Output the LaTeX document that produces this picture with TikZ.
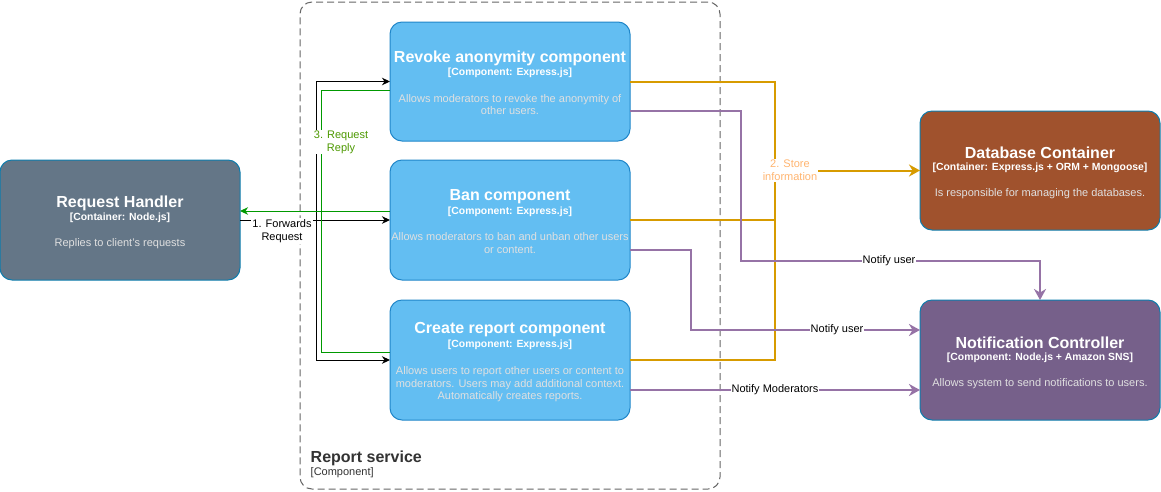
\documentclass[tikz,border=0pt]{standalone}
\usepackage{fontspec}
\setmainfont{Liberation Sans}
\usetikzlibrary{arrows.meta}
\definecolor{compfill}{HTML}{63BEF2}
\definecolor{compstroke}{HTML}{2086C9}
\definecolor{contstroke}{HTML}{0E7DAD}
\definecolor{rhfill}{HTML}{647687}
\definecolor{dbfill}{HTML}{A0522D}
\definecolor{ncfill}{HTML}{76608A}
\definecolor{desccol}{HTML}{E0E0E0}
\definecolor{orangeline}{HTML}{D79B00}
\definecolor{orangetext}{HTML}{FFB570}
\definecolor{purpleline}{HTML}{9673A6}
\definecolor{greenline}{HTML}{009900}
\definecolor{greentext}{HTML}{4D9900}
\definecolor{svcgray}{HTML}{666666}
\definecolor{svctext}{HTML}{333333}
\begin{document}
\begin{tikzpicture}[x=1pt,y=-1pt,
  box/.style={draw=contstroke, line width=1pt, rounded corners=12, minimum width=240, minimum height=120, outer sep=0, inner sep=0},
  comp/.style={box, draw=compstroke, fill=compfill},
  ttl/.style={font=\fontsize{16}{19}\selectfont\bfseries, text=white, inner sep=0},
  subt/.style={font=\fontsize{10.4}{13}\selectfont\bfseries, text=white, inner sep=0},
  dsc/.style={font=\fontsize{11}{12.6}\selectfont, text=desccol, align=center, inner sep=0},
  elabel/.style={font=\fontsize{11}{13}\selectfont, fill=white, inner sep=1pt, align=center},
  blk/.style={draw=black, line width=1pt},
  grn/.style={draw=greenline, line width=1pt},
  org/.style={draw=orangeline, line width=2pt},
  prp/.style={draw=purpleline, line width=2pt},
  thin tip/.style={-{Stealth[length=8pt,width=7.5pt,inset=2.5pt]}},
  thick tip/.style={-{Stealth[length=11pt,width=12pt,inset=3.5pt]}}
]
\useasboundingbox (0,0) rectangle (1161,491);
\fill[white] (0,0) rectangle (1161,491);

% service boundary
\node[draw=svcgray, line width=1pt, dash pattern=on 7pt off 4pt, rounded corners=12, minimum width=420, minimum height=487, inner sep=0, outer sep=0] (svc) at (510,245.5) {};
\node[font=\fontsize{16}{19}\selectfont\bfseries, text=svctext, anchor=west, inner sep=0] (svct) at (310.5,458) {Report service};
\node[font=\fontsize{11}{13}\selectfont, text=svctext, anchor=west, inner sep=0] (svcs) at (310.5,473) {[Component]};

% boxes
\node[box, fill=rhfill] (rh) at (120,220) {};
\node[comp, minimum height=119] (rev) at (510,81.5) {};
\node[comp] (ban) at (510,220) {};
\node[comp] (cr) at (510,360) {};
\node[box, fill=dbfill, minimum height=119] (db) at (1040,170.5) {};
\node[box, fill=ncfill] (nc) at (1040,360) {};

% texts
\node[ttl] (rht) at (120,203) {Request Handler};
\node[subt] (rhs) at (120,218) {[Container: Node.js]};
\node[dsc] (rhd) at (120,243.5) {Replies to client's requests};

\node[ttl] (revt) at (510,58) {Revoke anonymity component};
\node[subt] (revs) at (510,73) {[Component: Express.js]};
\node[dsc] (revd) at (510,104.5) {Allows moderators to revoke the anonymity of\\other users.};

\node[ttl] (bant) at (510,196.5) {Ban component};
\node[subt] (bans) at (510,211.5) {[Component: Express.js]};
\node[dsc] (band) at (510,243) {Allows moderators to ban and unban other users\\or content.};

\node[ttl] (crt) at (510,329.5) {Create report component};
\node[subt] (crs) at (510,344.5) {[Component: Express.js]};
\node[dsc] (crd) at (510,384.5) {Allows users to report other users or content to\\moderators. Users may add additional context.\\Automatically creates reports.};

\node[ttl] (dbt) at (1040,153) {Database Container};
\node[subt] (dbs) at (1040,168) {[Container: Express.js + ORM + Mongoose]};
\node[dsc] (dbd) at (1040,193.5) {Is responsible for managing the databases.};

\node[ttl] (nct) at (1040,342.5) {Notification Controller};
\node[subt] (ncs) at (1040,357.5) {[Component: Node.js + Amazon SNS]};
\node[dsc] (ncd) at (1040,383.5) {Allows system to send notifications to users.};

% black request lines
\coordinate (bj) at (316,220);
\draw[blk, thin tip] (rh.east) -- (ban.west);
\draw[blk, thin tip] (bj) |- (rev.west);
\draw[blk, thin tip] (bj) |- (cr.west);

% green reply lines
\coordinate (gj) at (321,211);
\draw[grn, thin tip] ([yshift=9]ban.west) -- ([yshift=9]rh.east);
\draw[grn] ([yshift=-9]rev.west) -| (gj);
\draw[grn] ([yshift=7.3]cr.west) -| (gj);

\node[elabel] (l1) at (282,231) {1. Forwards\\Request};
\node[elabel, text=greentext] (l3) at (341,142) {3. Request\\Reply};

% orange store lines
\coordinate (oj) at (775,170.5);
\draw[org] (rev.east) -| (oj);
\draw[org] (ban.east) -| (oj);
\draw[org] (cr.east) -| (oj);
\draw[org, thick tip] (oj) -- (db.west);
\node[elabel, text=orangetext] (l2) at (790,170.5) {2. Store\\information};

% purple notify lines
\coordinate (pr) at (740.5,260.5);
\draw[prp, thick tip] ([yshift=-29.2]rev.east) -| (pr) -| (nc.north);
\coordinate (pb) at (690.5,330);
\draw[prp, thick tip] ([yshift=-30]ban.east) -| (pb) -- ([yshift=30]nc.west);
\draw[prp, thick tip] ([yshift=-30]cr.east) -- ([yshift=-30]nc.west);
\node[elabel] (n1) at (889,260.5) {Notify user};
\node[elabel] (n2) at (837,330) {Notify user};
\node[elabel] (n3) at (775,390) {Notify Moderators};
\end{tikzpicture}
\end{document}
